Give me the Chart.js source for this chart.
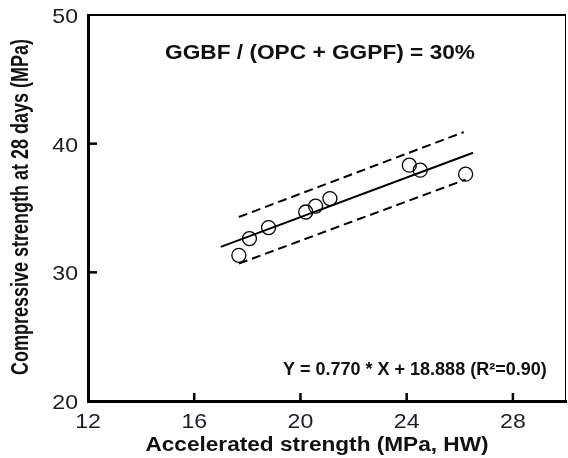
<!DOCTYPE html>
<html>
<head>
<meta charset="utf-8">
<script src="https://cdn.jsdelivr.net/npm/chart.js@4.4.1/dist/chart.umd.min.js"></script>
<style>
  html, body { margin: 0; padding: 0; background: #fff; }
  #wrap { width: 568px; height: 458px; }
</style>
</head>
<body>
<div id="wrap"><canvas id="chart" width="568" height="458"></canvas></div>
<script>
// measured points (accelerated vs 28-day strength)
const accelStrength = [17.68, 18.08, 18.80, 20.20, 20.57, 21.11, 24.10, 24.51, 26.22];
const strength28d = [31.32, 32.62, 33.48, 34.69, 35.14, 35.73, 38.33, 37.94, 37.63];

// fitted line and prediction band ends
const fitX = [17.0, 26.5];
const fitY = [31.98, 39.29];
const upperX = [17.68, 26.15];
const upperY = [34.30, 40.90];
const lowerX = [17.68, 26.22];
const lowerY = [30.68, 37.21];

const xTicks = [12, 16, 20, 24, 28];
const yTicks = [20, 30, 40, 50];

const xTitle = 'Accelerated strength (MPa, HW)';
const yTitle = 'Compressive strength at 28 days (MPa)';
const ratioLabel = 'GGBF / (OPC + GGPF) = 30%';
const eqLabel = 'Y = 0.770 * X + 18.888 (R\u00B2=0.90)';

const FONT = "'Liberation Sans', Arial, sans-serif";

const toPts = (xs, ys) => xs.map((x, i) => ({ x: x, y: ys[i] }));

// the source picture is a bit stretched sideways, so text is drawn with a x-scale
function stretchedText(ctx, text, x, y, sx, align) {
    ctx.save();
    ctx.translate(x, y);
    ctx.scale(sx, 1);
    ctx.textAlign = align || 'left';
    ctx.fillText(text, 0, 0);
    ctx.restore();
}

// inside ticks, tick labels, frame, titles and the two text notes
const frameAndNotes = {
    id: 'frameAndNotes',
    afterDraw(chart) {
        const { ctx, chartArea: a, scales } = chart;
        ctx.save();
        ctx.strokeStyle = '#000';

        // frame top + right
        ctx.lineWidth = 2;
        ctx.beginPath();
        ctx.moveTo(a.left, a.top);
        ctx.lineTo(a.right, a.top);
        ctx.stroke();
        ctx.lineWidth = 1;
        ctx.beginPath();
        ctx.moveTo(a.right - 0.5, a.top);
        ctx.lineTo(a.right - 0.5, a.bottom);
        ctx.stroke();

        // tick marks pointing into the plot + labels
        ctx.lineWidth = 2.5;
        ctx.fillStyle = '#1c1c28';
        ctx.font = '21px ' + FONT;
        ctx.textBaseline = 'alphabetic';
        xTicks.forEach(v => {
            const px = scales.x.getPixelForValue(v);
            if (v !== scales.x.min) {
                ctx.beginPath();
                ctx.moveTo(px, a.bottom);
                ctx.lineTo(px, a.bottom - 8);
                ctx.stroke();
            }
            stretchedText(ctx, String(v), px, a.bottom + 27, 1.1, 'center');
        });
        yTicks.forEach(v => {
            const py = scales.y.getPixelForValue(v);
            if (v !== scales.y.min && v !== scales.y.max) {
                ctx.beginPath();
                ctx.moveTo(a.left, py);
                ctx.lineTo(a.left + 9, py);
                ctx.stroke();
            }
            stretchedText(ctx, String(v), a.left - 10, py + 8, 1.1, 'right');
        });

        ctx.fillStyle = '#111';
        // axis titles
        ctx.font = 'bold 19.5px ' + FONT;
        stretchedText(ctx, xTitle, 317, 451, 1.16, 'center');

        ctx.save();
        ctx.translate(28, (a.top + a.bottom) / 2 - 1);
        ctx.scale(1.38, 1);
        ctx.rotate(-Math.PI / 2);
        ctx.font = 'bold 18px ' + FONT;
        ctx.textAlign = 'center';
        ctx.fillText(yTitle, 0, 0);
        ctx.restore();

        // notes
        ctx.font = 'bold 21px ' + FONT;
        stretchedText(ctx, ratioLabel, 165, 59, 1.08, 'left');
        ctx.font = 'bold 18px ' + FONT;
        stretchedText(ctx, eqLabel, 283, 375, 1.0, 'left');
        ctx.restore();
    }
};

const ctx = document.getElementById('chart').getContext('2d');
new Chart(ctx, {
    type: 'scatter',
    data: {
        datasets: [
            {
                label: 'data',
                data: toPts(accelStrength, strength28d),
                pointStyle: 'circle',
                pointRadius: 7,
                pointBorderWidth: 1.3,
                pointBorderColor: '#000',
                pointBackgroundColor: 'rgba(255,255,255,0)',
                showLine: false,
                order: 0
            },
            {
                label: 'fit',
                data: toPts(fitX, fitY),
                showLine: true,
                borderColor: '#000',
                borderWidth: 2,
                pointRadius: 0,
                order: 1
            },
            {
                label: 'upper',
                data: toPts(upperX, upperY),
                showLine: true,
                borderColor: '#000',
                borderWidth: 2,
                borderDash: [9, 5],
                pointRadius: 0,
                order: 2
            },
            {
                label: 'lower',
                data: toPts(lowerX, lowerY),
                showLine: true,
                borderColor: '#000',
                borderWidth: 2,
                borderDash: [9, 5],
                pointRadius: 0,
                order: 2
            }
        ]
    },
    options: {
        responsive: false,
        animation: false,
        layout: { autoPadding: false, padding: { top: 15, right: 2, left: 0, bottom: 0 } },
        plugins: {
            legend: { display: false },
            tooltip: { enabled: false }
        },
        scales: {
            x: {
                type: 'linear',
                min: 12,
                max: 30,
                afterFit: (s) => { s.height = 57; },
                grid: { display: false, drawTicks: false },
                border: { display: true, color: '#000', width: 3 },
                ticks: { display: false }
            },
            y: {
                type: 'linear',
                min: 20,
                max: 50,
                afterFit: (s) => { s.width = 88; },
                grid: { display: false, drawTicks: false },
                border: { display: true, color: '#000', width: 3 },
                ticks: { display: false }
            }
        }
    },
    plugins: [frameAndNotes]
});
</script>
</body>
</html>
